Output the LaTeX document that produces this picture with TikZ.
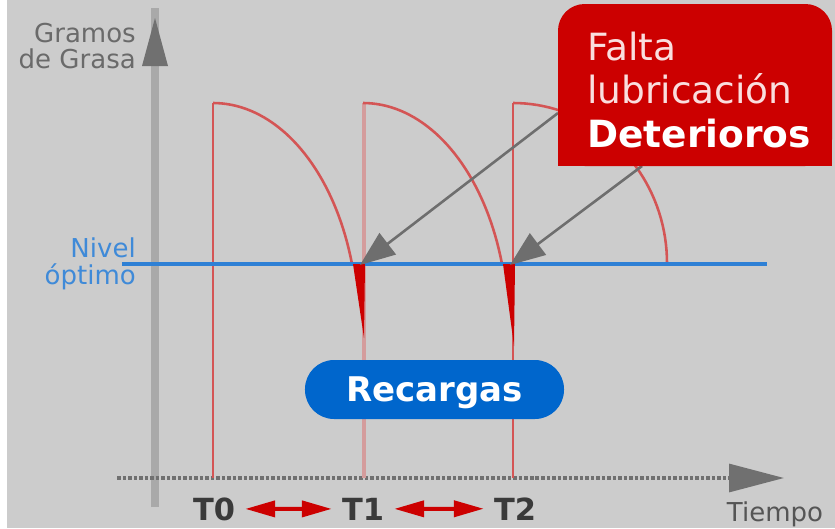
\documentclass[tikz,border=0pt]{standalone}
\usepackage{fontspec}
\setmainfont{DejaVu Sans}
\usetikzlibrary{arrows.meta}
\definecolor{fondo}{HTML}{CCCCCC}
\definecolor{ejegris}{HTML}{A9A9A9}
\definecolor{puntagris}{HTML}{707070}
\definecolor{flechagris}{HTML}{6E6E6E}
\definecolor{textogris}{HTML}{6A6A6A}
\definecolor{tgris}{HTML}{3A3A3A}
\definecolor{nivelazul}{HTML}{2E80D5}
\definecolor{niveltexto}{HTML}{3F8AD8}
\definecolor{curvarojo}{HTML}{D45555}
\definecolor{rosado}{HTML}{D49C9C}
\definecolor{rojo}{HTML}{CC0000}
\definecolor{rosatexto}{HTML}{FADEDE}
\definecolor{azulrec}{HTML}{0066CC}

\begin{document}
\begin{tikzpicture}[x=0.03cm,y=-0.03cm,
	curva/.style={curvarojo,line width=2.2pt},
	puntero/.style={flechagris,line width=2.2pt,-{Triangle[length=1.05cm,width=0.8cm]}},
	recflecha/.style={rojo,line width=3.4pt,{Triangle[length=0.9cm,width=0.48cm]}-{Triangle[length=0.9cm,width=0.48cm]}},
	ejelbl/.style={text=textogris,font=\fontsize{22.2pt}{24pt}\selectfont,inner sep=0pt},
	nivellbl/.style={text=niveltexto,font=\fontsize{22.2pt}{24pt}\selectfont,inner sep=0pt},
	tlbl/.style={text=tgris,font=\bfseries\fontsize{26pt}{28pt}\selectfont,inner xsep=0.3cm,inner ysep=0pt},
	faltalbl/.style={text=rosatexto,font=\fontsize{32pt}{34pt}\selectfont,inner sep=0pt,anchor=base west},
	faltabox/.style={inner sep=0pt,outer sep=0pt,minimum width=8.22cm,minimum height=4.86cm,anchor=north west},
	recbox/.style={fill=azulrec,text=white,font=\bfseries\fontsize{29pt}{30pt}\selectfont,
		rounded corners=0.87cm,minimum width=7.77cm,minimum height=1.77cm,inner sep=0pt,text depth=0pt}]
	\useasboundingbox (0,0) rectangle (835,528);
	\fill[fondo] (0,0) rectangle (835,528);
	\fill[white] (0,0) rectangle (7,528);
	% ejes
	\draw[ejegris,line width=6.8pt] (155,507) -- (155,8);
	\fill[puntagris] (155,18) -- (168,66) -- (142,66) -- cycle;
	\draw[puntagris,line width=2.6pt,dash pattern=on 3pt off 1.7pt,
		-{Triangle[length=1.65cm,width=0.84cm]}] (117,478) -- (784,478);
	% recargas en T0, T1, T2
	\draw[curva] (213,478) -- (213,103);
	\draw[rosado,line width=3.4pt] (364,478) -- (364,103);
	\draw[curva] (513,478) -- (513,103);
	% consumo de grasa entre recargas
	\foreach \ti in {213,363} {
		\draw[curva] plot[domain=0:73.2,samples=40,variable=\t]
		({\ti+145*sin(\t)},{328-225*cos(\t)});
	}
	\draw[curva] plot[domain=0:90,samples=40,variable=\t]
	({513+154*sin(\t)},{263-160*cos(\t)});
	% nivel optimo
	\draw[nivelazul,line width=3.6pt] (122,264) -- (767,264);
	% falta de lubricacion bajo el nivel
	\foreach \ti/\tn/\fin in {213/363/338, 363/513/346} {
		\fill[rojo] ({\ti+140},264) -- ({\tn+2},264) -- ({\tn+1},\fin) -- cycle;
	}
	\coordinate (tip1) at (360,265);
	\coordinate (tip2) at (510,265);
	\node[faltabox] (falta) at (558,4) {};
	\draw[puntero] ([yshift=1.59cm]falta.south west) -- (tip1);
	\draw[puntero] ([xshift=2.52cm]falta.south west) -- (tip2);
	\fill[rojo,rounded corners=0.8cm] (falta.south west) rectangle (falta.north east);
	\fill[rojo] (falta.south west) rectangle ([yshift=2cm]falta.south east);
	\node[faltalbl] (falta1) at (587,60) {Falta};
	\node[faltalbl] (falta2) at (587,103) {lubricación};
	\node[faltalbl,text=white,font=\bfseries\fontsize{32pt}{34pt}\selectfont] (falta3) at (587,147) {Deterioros};
	\node[recbox] (recargas) at (434.5,389.5) {Recargas};
	% textos de los ejes
	\node[ejelbl,anchor=base east] (gramos) at (136,42) {Gramos};
	\node[ejelbl,anchor=base east] (grasa) at (136,68) {de Grasa};
	\node[nivellbl,anchor=base east] (nivel) at (136,257) {Nivel};
	\node[nivellbl,anchor=base east] (optimo) at (136,284) {óptimo};
	\node[ejelbl,text=textogris!80!black,anchor=base] (tiempo) at (775,521) {Tiempo};
	\node[tlbl,anchor=base] (t0) at (214,520) {T0};
	\node[tlbl,anchor=base] (t1) at (363,520) {T1};
	\node[tlbl,anchor=base] (t2) at (515,520) {T2};
	\draw[recflecha] (t0) -- (t1);
	\draw[recflecha] (t1) -- (t2);
\end{tikzpicture}
\end{document}
